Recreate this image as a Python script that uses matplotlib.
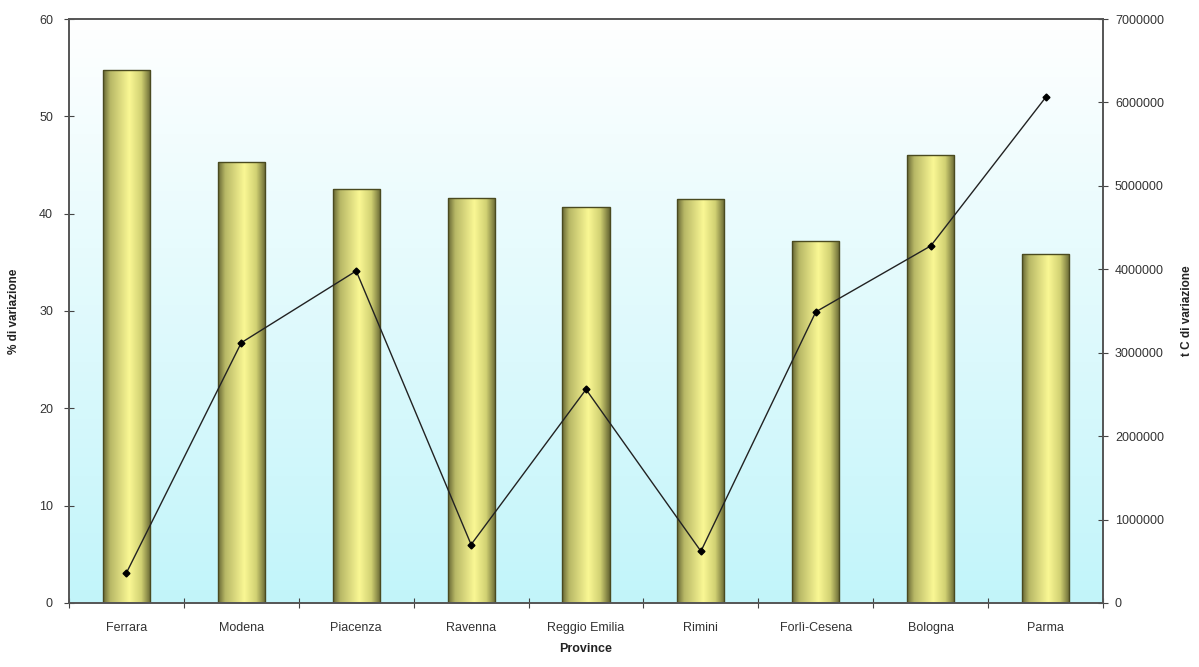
import numpy as np
import matplotlib.pyplot as plt
from matplotlib.ticker import FuncFormatter

plt.rcParams['font.family'] = ['Liberation Sans', 'DejaVu Sans']

# data
province = ['Ferrara', 'Modena', 'Piacenza', 'Ravenna', 'Reggio Emilia',
            'Rimini', 'Forlì-Cesena', 'Bologna', 'Parma']
perc_variazione = [54.8, 45.3, 42.5, 41.6, 40.7, 41.5, 37.2, 46.0, 35.9]
tc_variazione = [360000, 3120000, 3980000, 700000, 2560000,
                 620000, 3490000, 4280000, 6060000]

fig = plt.figure(figsize=(11.99, 6.67), dpi=100)
ax = fig.add_axes([0.0575, 0.096, 0.8625, 0.8755])
ax2 = ax.twinx()

x = np.arange(len(province))
n = len(province)

# background gradient: light cyan at bottom, white at top
grad = np.linspace(0, 1, 256).reshape(-1, 1, 1)
bot_c = np.array([0.76, 0.96, 0.98])
top_c = np.array([1.0, 1.0, 1.0])
bg = bot_c * (1 - grad) + top_c * grad
ax.imshow(bg, extent=[-0.5, n - 0.5, 0, 60], aspect='auto',
          zorder=0, origin='lower')

# bars with cylinder-like shading
bars = ax.bar(x, perc_variazione, width=0.41, color='none',
              edgecolor='#4a4a20', linewidth=1.0, zorder=2)
h = np.linspace(0, 1, 200)
stops = [0.0, 0.15, 0.55, 0.8, 1.0]
cols = np.array([[0.40, 0.40, 0.20],
                 [0.72, 0.72, 0.40],
                 [0.98, 0.97, 0.58],
                 [0.82, 0.82, 0.45],
                 [0.40, 0.40, 0.20]])
shade = np.stack([np.interp(h, stops, cols[:, i]) for i in range(3)], axis=-1)
shade = shade.reshape(1, -1, 3)
for b in bars:
    x0 = b.get_x()
    im = ax.imshow(shade, extent=[x0, x0 + b.get_width(), 0, b.get_height()],
                   aspect='auto', zorder=1.5, origin='lower')
    im.set_clip_path(b)

ax2.plot(x, tc_variazione, color='#222222', linewidth=1.0, marker='D',
         markersize=3.5, markerfacecolor='black', markeredgecolor='black', zorder=3)

ax.set_xlim(-0.5, n - 0.5)
ax.set_ylim(0, 60)
ax2.set_ylim(0, 7000000)

# ticks
ax.set_xticks(np.arange(-0.5, n, 1.0))
ax.set_xticklabels([])
ax.set_xticks(x, minor=True)
ax.set_xticklabels(province, minor=True)
ax.tick_params(axis='x', which='major', direction='inout', length=7, color='#444444')
ax.tick_params(axis='x', which='minor', length=0, pad=14, labelsize=9, labelcolor='#333333')
ax.set_yticks(np.arange(0, 61, 10))
ax.tick_params(axis='y', direction='inout', length=7, color='#444444',
               labelsize=9, labelcolor='#333333', pad=8)
ax2.set_yticks(np.arange(0, 7000001, 1000000))
ax2.yaxis.set_major_formatter(FuncFormatter(lambda v, p: '%d' % v))
ax2.tick_params(axis='y', direction='inout', length=7, color='#444444',
                labelsize=9, labelcolor='#333333', pad=5)

for a in (ax, ax2):
    for s in a.spines.values():
        s.set_color('#555555')
        s.set_linewidth(1.2)

ax.set_xlabel('Province', fontsize=9, fontweight='bold', color='#222222', labelpad=6)
ax.set_ylabel('% di variazione', fontsize=8.5, fontweight='bold', color='#222222', labelpad=14)
ax2.set_ylabel('t C di variazione', fontsize=8.5, fontweight='bold', color='#222222',
               labelpad=12, rotation=90)

fig.savefig('out.png', dpi=100)
